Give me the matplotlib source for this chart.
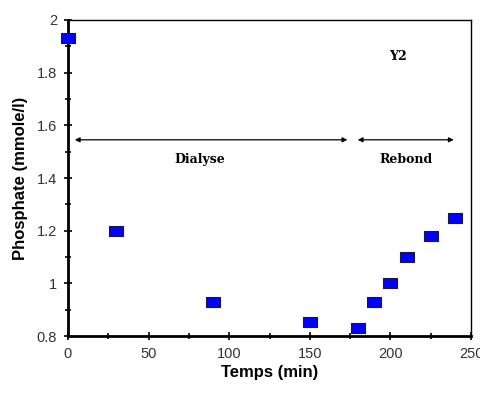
import numpy as np
import matplotlib.pyplot as plt
from matplotlib.ticker import MultipleLocator

# Phosphate values
temps = [0, 30, 90, 150, 180, 190, 200, 210, 225, 240]
phosphate = [1.93, 1.20, 0.93, 0.855, 0.83, 0.93, 1.00, 1.10, 1.18, 1.25]

fig = plt.figure(figsize=(4.8, 3.95), dpi=100)
ax = fig.add_axes([68 / 480, 1 - 336 / 395, (471 - 68) / 480, (336 - 20) / 395])

# rectangular marker, a bit wider than tall
rect = [(-1.4, -1), (1.4, -1), (1.4, 1), (-1.4, 1), (-1.4, -1)]
ax.plot(temps, phosphate, linestyle='none', marker=rect, markersize=10.5,
        markerfacecolor='#0000ff', markeredgecolor='#1a1a40', markeredgewidth=0.8,
        clip_on=False, zorder=5)

ax.set_xlim(0, 250)
ax.set_ylim(0.8, 2)
ax.xaxis.set_major_locator(MultipleLocator(50))
ax.xaxis.set_minor_locator(MultipleLocator(25))
ax.yaxis.set_major_locator(MultipleLocator(0.2))
ax.yaxis.set_minor_locator(MultipleLocator(0.1))
ax.set_yticks([0.8, 1.0, 1.2, 1.4, 1.6, 1.8, 2.0])
ax.set_yticklabels(['0.8', '1', '1.2', '1.4', '1.6', '1.8', '2'])
ax.tick_params(which='both', direction='inout', length=6, width=1.2,
               labelsize=10.5, colors='black', pad=5)
ax.tick_params(which='minor', length=5)
for lab in ax.get_xticklabels() + ax.get_yticklabels():
    lab.set_fontfamily('Liberation Sans')
    lab.set_color('#333333')

ax.spines['left'].set_linewidth(2)
ax.spines['bottom'].set_linewidth(2)
ax.spines['top'].set_linewidth(1)
ax.spines['right'].set_linewidth(1)

ax.set_xlabel('Temps (min)', fontsize=12, fontweight='bold', family='Liberation Sans', labelpad=3)
ax.set_ylabel('Phosphate (mmole/l)', fontsize=12, fontweight='bold', family='Liberation Sans', labelpad=6)

# phase arrows
arrow_y = 1.545
ax.annotate('', xy=(2.5, arrow_y), xytext=(175, arrow_y),
            arrowprops=dict(arrowstyle='<|-|>', color='black', lw=0.9, mutation_scale=7))
ax.annotate('', xy=(178, arrow_y), xytext=(241, arrow_y),
            arrowprops=dict(arrowstyle='<|-|>', color='black', lw=0.9, mutation_scale=7))
ax.text(82, 1.47, 'Dialyse', fontsize=9, family='DejaVu Serif', fontweight='bold', ha='center', va='center')
ax.text(210, 1.47, 'Rebond', fontsize=9, family='DejaVu Serif', fontweight='bold', ha='center', va='center')
ax.text(205, 1.86, 'Y2', fontsize=9, family='DejaVu Serif', fontweight='bold', ha='center', va='center')

fig.savefig('out.png', dpi=100)
